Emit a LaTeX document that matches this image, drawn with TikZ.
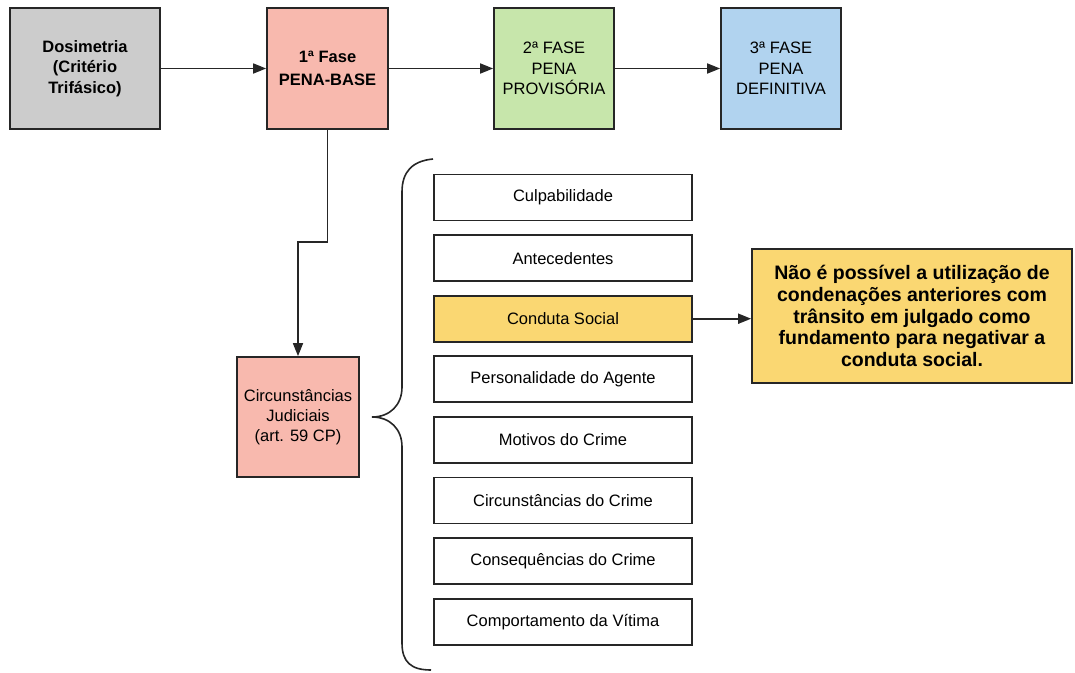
\documentclass[tikz,border=0pt]{standalone}
\usepackage{fontspec}
\setmainfont{Liberation Sans}
\usetikzlibrary{arrows.meta}

\definecolor{linegray}{HTML}{262626}
\definecolor{boxgray}{HTML}{CCCCCC}
\definecolor{boxpink}{HTML}{F8B9AE}
\definecolor{boxgreen}{HTML}{C7E6AB}
\definecolor{boxblue}{HTML}{B1D3EF}
\definecolor{boxyellow}{HTML}{FAD772}

\begin{document}
\begin{tikzpicture}[x=1pt,y=-1pt,
  phase/.style={draw=linegray, line width=1.7pt, align=center, inner sep=0pt,
    minimum width=120pt, minimum height=121pt,
    font=\fontsize{16.5}{20.7}\selectfont},
  item/.style={draw=linegray, line width=1.7pt, fill=white, align=center, inner sep=0pt,
    minimum width=258pt, minimum height=46pt,
    font=\fontsize{16.5}{20}\selectfont},
  note/.style={draw=linegray, line width=1.7pt, fill=boxyellow, align=center, inner sep=0pt,
    minimum width=320pt, minimum height=134pt,
    font=\bfseries\fontsize{19.5}{21.7}\selectfont},
  link/.style={draw=linegray, line width=1.7pt,
    -{Triangle[length=13pt,width=10pt]}},
  bracket/.style={draw=linegray, line width=1.6pt}
]
\useasboundingbox (0,0) rectangle (1075,672);

% the three phases of the sentencing calculation
\node[phase, fill=boxgray, minimum width=150pt, font=\bfseries\fontsize{16.5}{20.7}\selectfont]
  (dos) at (85,68.5) {Dosimetria\\(Critério\\Trifásico)};
\node[phase, fill=boxpink, minimum width=121pt, font=\bfseries\fontsize{16.5}{22.5}\selectfont]
  (f1) at (327.5,68.5) {1ª Fase\\PENA-BASE};
\node[phase, fill=boxgreen] (f2) at (554,68.5) {2ª FASE\\PENA\\PROVISÓRIA};
\node[phase, fill=boxblue] (f3) at (781,68.5) {3ª FASE\\PENA\\DEFINITIVA};

\draw[link] (dos) -- (f1);
\draw[link] (f1) -- (f2);
\draw[link] (f2) -- (f3);

% judicial circumstances
\node[phase, fill=boxpink, minimum width=122pt, minimum height=120pt,
  font=\fontsize{16.5}{20}\selectfont]
  (cj) at (298,417) {Circunstâncias\\Judiciais\\(art. 59 CP)};
\coordinate (bend) at (328,242);
\draw[link] (f1.south) -- (f1.south |- bend) -| (cj.north);

% brace grouping the eight circumstances
\draw[bracket] (433,159) .. controls (412,161) and (402,172) .. (402,192)
  -- (402,387) .. controls (402,405) and (390,417) .. (372,417)
  .. controls (390,417) and (402,429) .. (402,447)
  -- (402,643) .. controls (402,662) and (411,670) .. (431,670);

\node[item] (c1) at (563,197.5) {Culpabilidade};
\node[item] (c2) at (563,258.1) {Antecedentes};
\node[item, fill=boxyellow] (c3) at (563,318.7) {Conduta Social};
\node[item] (c4) at (563,379.3) {Personalidade do Agente};
\node[item] (c5) at (563,439.9) {Motivos do Crime};
\node[item] (c6) at (563,500.5) {Circunstâncias do Crime};
\node[item] (c7) at (563,561.1) {Consequências do Crime};
\node[item] (c8) at (563,621.7) {Comportamento da Vítima};

% remark on social conduct
\node[note] (rem) at (912,316) {Não é possível a utilização de\\condenações anteriores com\\trânsito em julgado como\\fundamento para negativar a\\conduta social.};
\draw[link] (c3.east) -- (c3.east -| rem.west);
\end{tikzpicture}
\end{document}
